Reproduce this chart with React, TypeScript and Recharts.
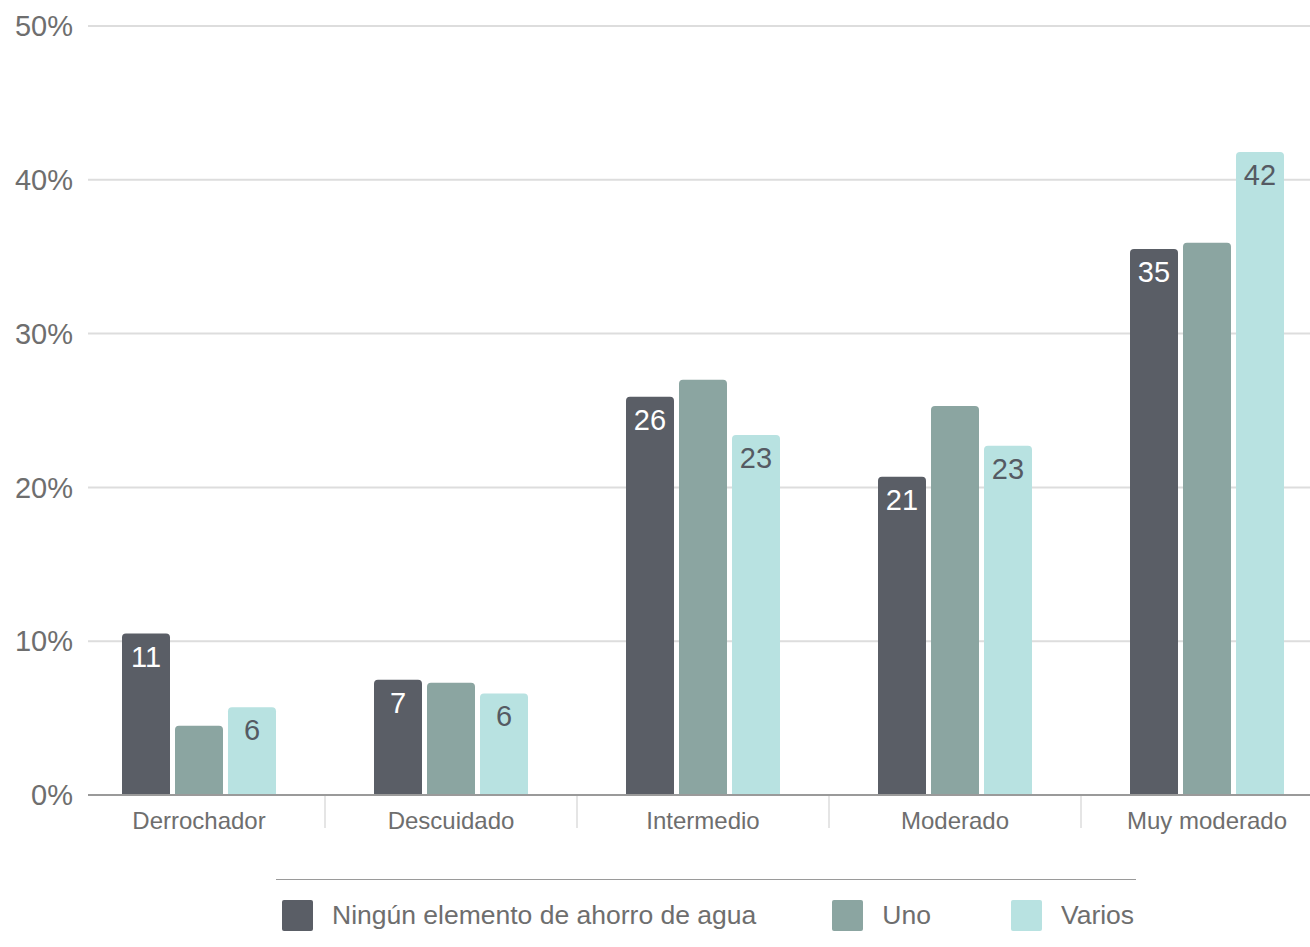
import React from 'react';
import { BarChart, Bar, XAxis, YAxis, CartesianGrid, Legend, LabelList } from 'recharts';

const categories = ['Derrochador', 'Descuidado', 'Intermedio', 'Moderado', 'Muy moderado'];
const ningunoValues = [10.5, 7.5, 25.9, 20.7, 35.5];
const unoValues = [4.5, 7.3, 27.0, 25.3, 35.9];
const variosValues = [5.7, 6.6, 23.4, 22.7, 41.8];
const ningunoLabels = ['11', '7', '26', '21', '35'];
const variosLabels = ['6', '6', '23', '23', '42'];
const yTicks = [0, 10, 20, 30, 40, 50];
const seriesNames = ['Ningún elemento de ahorro de agua', 'Uno', 'Varios'];

const data = categories.map((c, i) => ({
  category: c,
  ninguno: ningunoValues[i],
  uno: unoValues[i],
  varios: variosValues[i],
  ningunoLabel: ningunoLabels[i],
  variosLabel: variosLabels[i],
}));

const FONT = '"Liberation Sans", Arial, Helvetica, sans-serif';
const W = 1310;
const H = 947;
const Y_AXIS_W = 88;
const PAD_L = -15;
const PAD_R = -23;
const PLOT_W = W - Y_AXIS_W;
const BAND = (PLOT_W - PAD_L - PAD_R) / categories.length;

const C1 = '#5a5e66';
const C2 = '#8ba5a1';
const C3 = '#b8e2e1';
const TEXT = '#6e6e6e';

const XTick = (props: any) => {
  const { x, y, payload, index } = props;
  return (
    <g>
      <text x={x} y={y + 32} textAnchor="middle" fill={TEXT} fontSize={24} fontFamily={FONT}>
        {payload.value}
      </text>
      {index < categories.length - 1 && (
        <line x1={x + BAND / 2} x2={x + BAND / 2} y1={y - 1} y2={y + 31} stroke="#dddddd" strokeWidth={1.5} />
      )}
    </g>
  );
};

const makeLabel = (color: string) => (props: any) => {
  const { x, y, width, value } = props;
  return (
    <text x={x + width / 2} y={y + 33} textAnchor="middle" fill={color} fontSize={29} fontFamily={FONT}>
      {value}
    </text>
  );
};

const LegendContent = (props: any) => {
  const payload = props.payload || [];
  return (
    <div style={{ position: 'relative', height: 112, width: W, fontFamily: FONT }}>
      <div style={{ position: 'absolute', left: 276, top: 44, width: 860, borderTop: '1.5px solid #9a9a9a' }} />
      <div style={{ position: 'absolute', left: 282, top: 65, display: 'flex', alignItems: 'center' }}>
        {payload.map((p: any, i: number) => (
          <div key={i} style={{ display: 'flex', alignItems: 'center', marginRight: i === 0 ? 76 : 80 }}>
            <div style={{ width: 31, height: 31, background: p.color, borderRadius: 2, marginRight: 19 }} />
            <span style={{ fontSize: 26.5, color: TEXT, lineHeight: '31px' }}>{p.value}</span>
          </div>
        ))}
      </div>
    </div>
  );
};

export default function App() {
  return (
    <div style={{ position: 'absolute', left: 0, top: 0, width: W, height: H, overflow: 'hidden', background: '#fff' }}>
      <BarChart
        width={W}
        height={H}
        data={data}
        margin={{ top: 26, right: 0, bottom: 0, left: 0 }}
        barCategoryGap={49}
        barGap={5}
      >
        <CartesianGrid vertical={false} stroke="#dddddd" strokeWidth={2} />
        <YAxis
          width={Y_AXIS_W}
          domain={[0, 50]}
          ticks={yTicks}
          axisLine={false}
          tickLine={false}
          tickSize={0}
          tickMargin={15}
          tickFormatter={(v: number) => `${v}%`}
          tick={{ fill: TEXT, fontSize: 29, fontFamily: FONT }}
          interval={0}
        />
        <XAxis
          dataKey="category"
          height={40}
          padding={{ left: PAD_L, right: PAD_R }}
          axisLine={{ stroke: '#9a9a9a', strokeWidth: 2 }}
          tickLine={false}
          tickSize={0}
          tick={<XTick />}
          interval={0}
        />
        <Legend verticalAlign="bottom" height={112} content={<LegendContent />} />
        <Bar dataKey="ninguno" name={seriesNames[0]} fill={C1} radius={[4, 4, 0, 0]} isAnimationActive={false}>
          <LabelList dataKey="ningunoLabel" content={makeLabel('#ffffff')} />
        </Bar>
        <Bar dataKey="uno" name={seriesNames[1]} fill={C2} radius={[4, 4, 0, 0]} isAnimationActive={false} />
        <Bar dataKey="varios" name={seriesNames[2]} fill={C3} radius={[4, 4, 0, 0]} isAnimationActive={false}>
          <LabelList dataKey="variosLabel" content={makeLabel('#555a63')} />
        </Bar>
      </BarChart>
    </div>
  );
}
